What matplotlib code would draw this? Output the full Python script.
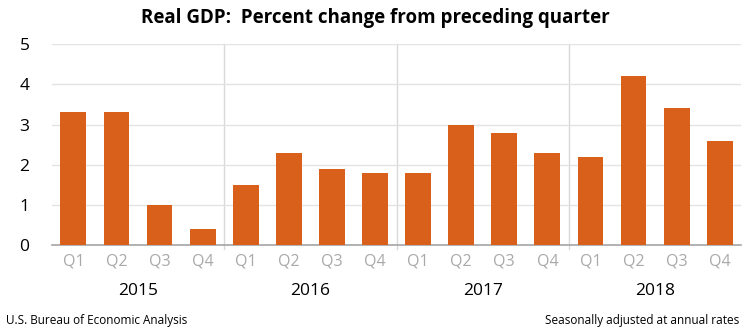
import matplotlib
matplotlib.use("Agg")
import matplotlib.pyplot as plt

years = ["2015", "2016", "2017", "2018"]
quarters = ["Q1", "Q2", "Q3", "Q4"]
gdp = [3.3, 3.3, 1.0, 0.4,
       1.5, 2.3, 1.9, 1.8,
       1.8, 3.0, 2.8, 2.3,
       2.2, 4.2, 3.4, 2.6]

plt.rcParams['font.family'] = ['Open Sans', 'DejaVu Sans']

fig = plt.figure(figsize=(7.51, 3.34), dpi=100)
ax = fig.add_axes([0.069, 0.266, 0.918, 0.602])

x = list(range(len(gdp)))
ax.bar(x, gdp, width=0.6, color="#D9601A", zorder=3)

ax.set_xlim(-0.5, len(gdp) - 0.5)
ax.set_ylim(0, 5)
ax.set_yticks([0, 1, 2, 3, 4, 5])
ax.yaxis.grid(True, color="#E3E3E3", linewidth=1, zorder=0)
ax.tick_params(axis="y", length=0, labelsize=12.5, pad=16, colors="black")
ax.tick_params(axis="x", length=0, labelsize=11.5, pad=6, labelcolor="#A9A9A9")
ax.set_xticks(x)
ax.set_xticklabels(quarters * len(years))

for s in ["top", "right", "left"]:
    ax.spines[s].set_visible(False)
ax.spines["bottom"].set_color("#A6A6A6")
ax.spines["bottom"].set_linewidth(1.2)

# year separators
for i in range(1, len(years)):
    ax.axvline(i * 4 - 0.5, ymin=-0.02, ymax=1, color="#D9D9D9", linewidth=1, zorder=1, clip_on=False)

# year labels
for i, yr in enumerate(years):
    ax.text(i * 4 + 1.5, -0.23, yr, transform=ax.get_xaxis_transform(),
            ha="center", va="center", fontsize=12.5, color="black")

fig.text(0.5, 0.945, "Real GDP:  Percent change from preceding quarter",
         ha="center", va="center", fontsize=13.5, fontweight="bold")
fig.text(0.008, 0.04, "U.S. Bureau of Economic Analysis",
         ha="left", va="center", fontsize=8.5)
fig.text(0.985, 0.04, "Seasonally adjusted at annual rates",
         ha="right", va="center", fontsize=8.5)

fig.savefig("out.png", dpi=100)
